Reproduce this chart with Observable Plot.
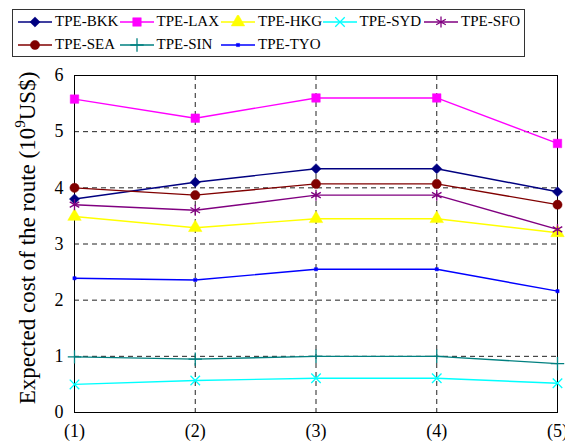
<!DOCTYPE html>
<html>
<head>
<meta charset="utf-8">
<script src="https://cdn.jsdelivr.net/npm/d3@7"></script>
<script src="https://cdn.jsdelivr.net/npm/@observablehq/plot@0.6"></script>
<style>
  html, body { margin: 0; padding: 0; background: #fff; }
  #wrap { position: relative; width: 565px; height: 441px; overflow: hidden; font-family: "Liberation Serif", "Times New Roman", serif; }
  #legend { position: absolute; left: 12px; top: 9px; width: 507px; height: 46px; border: 1px solid #333; background: #fff;
    display: grid; grid-template-columns: repeat(5, 101.5px); grid-auto-rows: 23px; padding: 0 0 0 4px; box-sizing: content-box; align-content: center; }
  .item { display: flex; align-items: center; font-size: 15px; color: #000; white-space: nowrap; }
  .item svg { margin-right: 2px; flex: none; }
</style>
</head>
<body>
<div id="wrap"><div id="legend"></div></div>
<script>
// ---- data ----
const routes = ["TPE-BKK", "TPE-LAX", "TPE-HKG", "TPE-SYD", "TPE-SFO", "TPE-SEA", "TPE-SIN", "TPE-TYO"];
const scenarios = [1, 2, 3, 4, 5];
const xTickLabels = ["(1)", "(2)", "(3)", "(4)", "(5)"];
const yTicks = [0, 1, 2, 3, 4, 5, 6];
const bkk = [3.80, 4.10, 4.34, 4.34, 3.93];
const lax = [5.58, 5.24, 5.60, 5.60, 4.79];
const hkg = [3.49, 3.29, 3.45, 3.45, 3.20];
const syd = [0.50, 0.57, 0.61, 0.61, 0.52];
const sfo = [3.70, 3.60, 3.87, 3.87, 3.26];
const sea = [4.00, 3.87, 4.07, 4.07, 3.70];
const sin = [0.99, 0.95, 1.00, 1.00, 0.87];
const tyo = [2.39, 2.36, 2.55, 2.55, 2.16];
const seriesValues = [bkk, lax, hkg, syd, sfo, sea, sin, tyo];

// ---- styles ----
const colors = ["#000080", "#ff00ff", "#ffff00", "#00ffff", "#800080", "#800000", "#008080", "#0000ff"];
const symbols = ["diamond2", "square", "triangle", "times", "asterisk", "circle", "plus", "square"];
const filled = [true, true, true, false, false, true, false, true];
const radii = [4.6, 4.8, 5, 4.4, 5.2, 4.6, 4.4, 1.8];

const data = routes.flatMap((r, i) => scenarios.map((s, j) => ({route: r, idx: i, x: s, y: seriesValues[i][j]})));

const marks = [
  Plot.ruleY([1, 2, 3, 4, 5], {stroke: "#222", strokeWidth: 1, strokeDasharray: "5,4"}),
  Plot.ruleX([2, 3, 4], {stroke: "#222", strokeWidth: 1, strokeDasharray: "5,4"}),
  Plot.frame({stroke: "#000", strokeWidth: 1})
];
routes.forEach((r, i) => {
  const d = data.filter(p => p.idx === i);
  marks.push(Plot.line(d, {x: "x", y: "y", stroke: colors[i], strokeWidth: 1.4}));
  marks.push(Plot.dot(d, filled[i]
    ? {x: "x", y: "y", symbol: () => symbols[i], r: radii[i], fill: colors[i], stroke: colors[i], strokeWidth: 0.5}
    : {x: "x", y: "y", symbol: () => symbols[i], r: radii[i], fill: "none", stroke: colors[i], strokeWidth: 1.3}));
});

const chart = Plot.plot({
  width: 565,
  height: 441,
  marginLeft: 74,
  marginRight: 8,
  marginTop: 75,
  marginBottom: 29,
  style: {fontFamily: "'Liberation Serif', 'Times New Roman', serif", fontSize: "18px", color: "#000", background: "#fff", overflow: "hidden"},
  x: {domain: [1, 5], ticks: scenarios, tickFormat: (d) => xTickLabels[d - 1], tickSize: 0, tickPadding: 12, label: null},
  y: {domain: [0, 6], ticks: yTicks, tickFormat: (d) => String(d), tickSize: 0, tickPadding: 11, label: null},
  symbol: {type: "identity"},
  marks: marks
});
document.getElementById("wrap").prepend(chart);

// y-axis title with superscript
const svg = d3.select(chart);
const t = svg.append("text")
  .attr("transform", "translate(35,238) rotate(-90)")
  .attr("text-anchor", "middle")
  .attr("font-size", 23)
  .attr("fill", "#000");
t.append("tspan").text("Expected cost of the route (10");
t.append("tspan").attr("font-size", 15).attr("dy", -10).text("9");
t.append("tspan").attr("dy", 10).text("US$)");

// legend
const legend = d3.select("#legend");
const symMap = {diamond2: d3.symbolDiamond2, square: d3.symbolSquare, triangle: d3.symbolTriangle, times: d3.symbolTimes, asterisk: d3.symbolAsterisk, circle: d3.symbolCircle, plus: d3.symbolPlus};
routes.forEach((r, i) => {
  const item = legend.append("div").attr("class", "item");
  const s = item.append("svg").attr("width", 36).attr("height", 14);
  s.append("line").attr("x1", 1).attr("x2", 35).attr("y1", 7).attr("y2", 7).attr("stroke", colors[i]).attr("stroke-width", 1.4);
  const path = d3.symbol(symMap[symbols[i]], Math.PI * radii[i] * radii[i])();
  s.append("path").attr("d", path).attr("transform", "translate(18,7)")
    .attr("fill", filled[i] ? colors[i] : "none").attr("stroke", colors[i]).attr("stroke-width", filled[i] ? 0.5 : 1.3);
  item.append("span").text(r);
});
</script>
</body>
</html>
